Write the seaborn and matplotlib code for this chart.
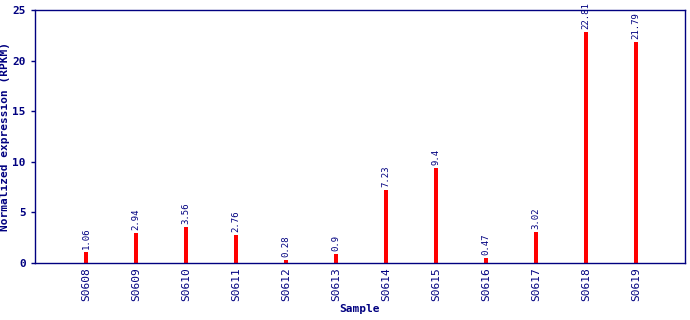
import matplotlib
matplotlib.use("Agg")
import matplotlib.pyplot as plt
import seaborn as sns
import pandas as pd

samples = ["S0608", "S0609", "S0610", "S0611", "S0612", "S0613",
           "S0614", "S0615", "S0616", "S0617", "S0618", "S0619"]
values = [1.06, 2.94, 3.56, 2.76, 0.28, 0.9, 7.23, 9.4, 0.47, 3.02, 22.81, 21.79]
labels = ["1.06", "2.94", "3.56", "2.76", "0.28", "0.9", "7.23", "9.4", "0.47", "3.02", "22.81", "21.79"]

sns.set_style("white")
plt.rcParams['font.family'] = ['DejaVu Sans Mono']
navy = "#000080"

df = pd.DataFrame({"Sample": samples, "Value": values})
fig = plt.figure(figsize=(6.9, 3.2), dpi=100)
ax = fig.add_axes([35/690, 1 - 263/320, 650/690, 253/320])
sns.barplot(data=df, x="Sample", y="Value", color="#ff0000", width=0.09,
            saturation=1, ax=ax, edgecolor="none")
ax.set_xlim(-1.02, 11.98)
ax.set_ylim(0, 25)
ax.set_yticks([0, 5, 10, 15, 20, 25])
for i, (v, l) in enumerate(zip(values, labels)):
    ax.text(i, v + 0.3, l, rotation=90, ha="center", va="bottom",
            fontsize=6.5, color=navy)
for s in ax.spines.values():
    s.set_color(navy)
    s.set_linewidth(1)
ax.tick_params(axis="x", labelrotation=90, labelsize=8, colors=navy, length=0, pad=3)
ax.tick_params(axis="y", labelsize=8, colors=navy, length=3, width=1, left=True)
for t in ax.get_yticklabels():
    t.set_fontweight("bold")
ax.set_xlabel("Sample", fontsize=8, fontweight="bold", color=navy, labelpad=2)
ax.set_ylabel("Normalized expression (RPKM)", fontsize=8, fontweight="bold", color=navy, labelpad=1.5)
fig.savefig("out.png", dpi=100)
